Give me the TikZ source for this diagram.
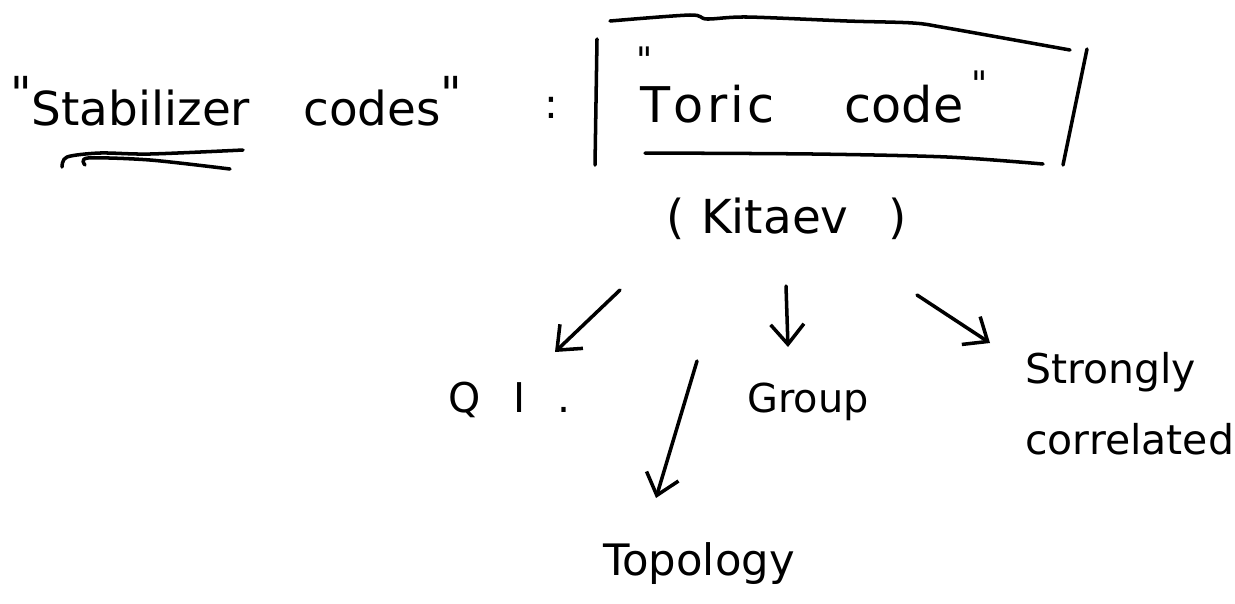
\documentclass[tikz,border=0pt]{standalone}
\usepackage{fontspec}
\setmainfont{DejaVu Sans}[Ligatures=TeXOff]
\usepackage{tikz}
\usetikzlibrary{arrows.meta}

\tikzset{
  pen/.style={line width=3pt, line cap=round, line join=round},
  arr/.style={pen, -{Straight Barb[length=6mm,width=10mm]}},
  big/.style={font=\fontsize{40}{48}\selectfont, inner sep=0pt, anchor=base west},
  mid/.style={font=\fontsize{35}{61}\selectfont, inner sep=0pt, anchor=base west},
  tick/.style={font=\fontsize{30}{36}\selectfont, inner sep=0pt, anchor=base},
}

\begin{document}
\begin{tikzpicture}[x=0.03cm,y=-0.03cm]
  \useasboundingbox (0,0) rectangle (1235,603);

  % left title
  \node[big] (stab) at (10,125) {\raisebox{0.3em}{"}Stabilizer\hspace{1.6cm}codes\raisebox{0.3em}{"}};
  \draw[pen] plot[smooth] coordinates {(62,167) (67,157) (100,153) (150,154) (243,150)};
  \draw[pen] plot[smooth] coordinates {(85,165) (88,158) (150,160) (230,169)};
  \node[mid] (colon) at (544,118) {:};

  % the box round the toric code
  \coordinate (bl1) at (597,39);
  \coordinate (bl2) at (595,165);
  \coordinate (br1) at (1087,49);
  \coordinate (br2) at (1063,165);
  \draw[pen] (bl1) -- (bl2);
  \draw[pen] (br1) -- (br2);
  \draw[pen] plot[smooth] coordinates {(610,21) (690,15) (707,19) (747,17) (847,21) (913,23) (947,28) (1070,50)};
  \draw[pen] plot[smooth] coordinates {(645,153) (813,154) (947,157) (1043,164)};
  \node[big, font=\fontsize{42}{48}\selectfont] (toric) at (640,122) {T\hspace{0.1cm}o\hspace{0.1cm}r\hspace{0.1cm}i\hspace{0.1cm}c\hspace{2.1cm}code};
  \node[tick] (toricl) at (645,72) {"};
  \node[tick] (toricr) at (980,96) {"};

  \node[big] (kitaev) at (666,233) {(\hspace{0.5cm}Kitaev\hspace{1.2cm})};

  % what it leads to
  \node[mid] (qi) at (448,412) {Q\hspace{1cm}I\hspace{0.95cm}.};
  \node[mid, font=\fontsize{34}{40}\selectfont] (group) at (747,412) {Group};
  \node[mid, anchor=north west, align=left] (strong) at (1025,352) {Strongly\\correlated};
  \node[mid, font=\fontsize{37}{44}\selectfont] (topo) at (603,575) {Topology};

  \coordinate (qi-s) at (620,290);
  \coordinate (qi-e) at (555,352);
  \coordinate (gr-s) at (786,286);
  \coordinate (gr-e) at (788,347);
  \coordinate (st-s) at (917,295);
  \coordinate (st-e) at (990,343);
  \coordinate (tp-s) at (697,361);
  \coordinate (tp-e) at (656,498);
  \draw[arr] (qi-s) -- (qi-e);
  \draw[arr] (gr-s) -- (gr-e);
  \draw[arr] (st-s) -- (st-e);
  \draw[arr] (tp-s) -- (tp-e);
\end{tikzpicture}
\end{document}
